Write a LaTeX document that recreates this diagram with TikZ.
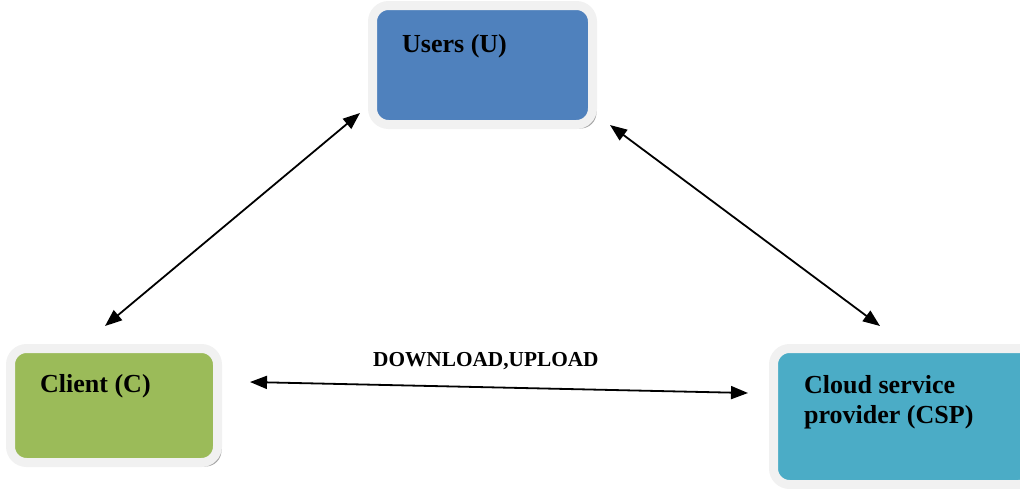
\documentclass[tikz,border=0pt]{standalone}
\usepackage{fontspec}
\setmainfont{Liberation Serif}
\usetikzlibrary{arrows.meta,shadows}

\definecolor{usersblue}{HTML}{4F81BD}
\definecolor{clientgreen}{HTML}{9BBB59}
\definecolor{cspcyan}{HTML}{4BACC6}
\definecolor{rimgrey}{HTML}{F1F1F1}

\tikzset{
  partybox/.style={rectangle,rounded corners=16pt,draw=rimgrey,line width=9pt,
    drop shadow={shadow xshift=4pt,shadow yshift=-4pt,fill=gray!80,opacity=0.9},
    inner sep=0pt},
  partytext/.style={anchor=base west,inner sep=0pt,align=left,
    font=\fontsize{26}{30}\selectfont\bfseries},
  link/.style={{Triangle[length=17pt,width=13pt]}-{Triangle[length=17pt,width=13pt]},line width=1.8pt}
}

\begin{document}
\begin{tikzpicture}[x=1pt,y=-1pt]
  \useasboundingbox (0,0) rectangle (1020,488);

  \node [partybox,fill=usersblue,minimum width=220pt,minimum height=119pt] (users) at (482.5,65) {};
  \node [partybox,fill=clientgreen,minimum width=207pt,minimum height=114pt] (client) at (114,405.5) {};
  \node [partybox,fill=cspcyan,minimum width=261pt,minimum height=136pt] (csp) at (904,416.5) {};

  \node [partytext] (userslabel) at (402,52) {Users (U)};
  \node [partytext] (clientlabel) at (40,392) {Client (C)};
  \node [partytext] (csplabel1) at (804,393) {Cloud service};
  \node [partytext] (csplabel2) at (804,423) {provider (CSP)};

  \coordinate (uc) at (360,113);
  \coordinate (cu) at (105,326);
  \coordinate (us) at (610,125);
  \coordinate (su) at (880,326);
  \coordinate (cs) at (250,382);
  \coordinate (sc) at (748,393);

  \draw [link] (cu) -- (uc);
  \draw [link] (us) -- (su);
  \draw [link] (cs) -- (sc);

  \node [anchor=base west,inner sep=0pt,font=\fontsize{21.3}{25}\selectfont\bfseries] (transfer) at (373,366) {DOWNLOAD,UPLOAD};
\end{tikzpicture}
\end{document}
